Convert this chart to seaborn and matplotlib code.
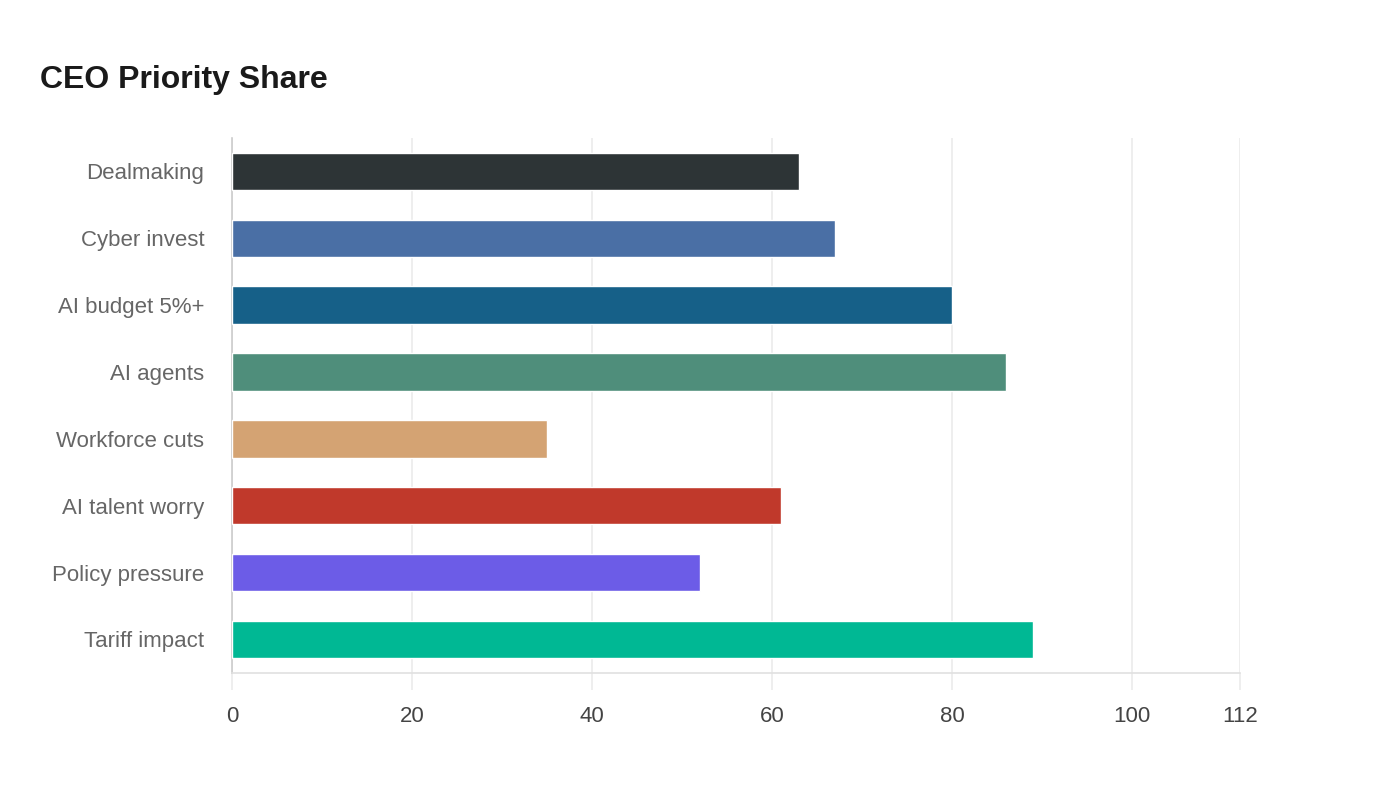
import matplotlib
matplotlib.use("Agg")
import matplotlib.pyplot as plt
import seaborn as sns
import pandas as pd

categories = ["Dealmaking", "Cyber invest", "AI budget 5%+", "AI agents",
              "Workforce cuts", "AI talent worry", "Policy pressure", "Tariff impact"]
values = [63, 67, 80, 86, 35, 61, 52, 89]
colors = ["#2d3436", "#4a6fa5", "#166088", "#4f8e7b",
          "#d4a373", "#c0392b", "#6c5ce7", "#00b894"]
xticks = [0, 20, 40, 60, 80, 100, 112]

sns.set_theme(style="white")
plt.rcParams["font.family"] = ["Liberation Sans", "DejaVu Sans"]

df = pd.DataFrame({"category": categories, "value": values})

fig = plt.figure(figsize=(14, 8), dpi=100)
ax = fig.add_axes([0.1657, 0.159, 0.72, 0.6685])

sns.barplot(data=df, x="value", y="category", hue="category",
            palette=colors, orient="h", width=0.56, legend=False, ax=ax,
            saturation=1, zorder=3)

ax.set_xlim(0, 112)
ax.set_xticks(xticks)
ax.set_xticklabels([str(t) for t in xticks])
ax.set_xlabel("")
ax.set_ylabel("")
ax.grid(axis="x", color="#ebebeb", linewidth=1.2, zorder=0)
ax.grid(axis="y", visible=False)
for s in ["top", "right"]:
    ax.spines[s].set_visible(False)
ax.spines["left"].set_color("#cccccc")
ax.spines["bottom"].set_color("#e0e0e0")
ax.spines["left"].set_linewidth(1.2)
ax.spines["bottom"].set_linewidth(1.2)

ax.tick_params(axis="x", labelsize=16, length=12,
               width=1.2, color="#ebebeb", pad=12, bottom=True)
ax.tick_params(axis="y", labelsize=16, length=0, pad=20)
for lbl in ax.get_xticklabels():
    lbl.set_color("#444444")
for lbl in ax.get_yticklabels():
    lbl.set_color("#666666")

fig.text(40 / 1400, 1 - 80 / 800, "CEO Priority Share", fontsize=23,
         fontweight="bold", color="#1a1a1a", ha="left", va="center")

fig.savefig("out.png", dpi=100, facecolor="white")
